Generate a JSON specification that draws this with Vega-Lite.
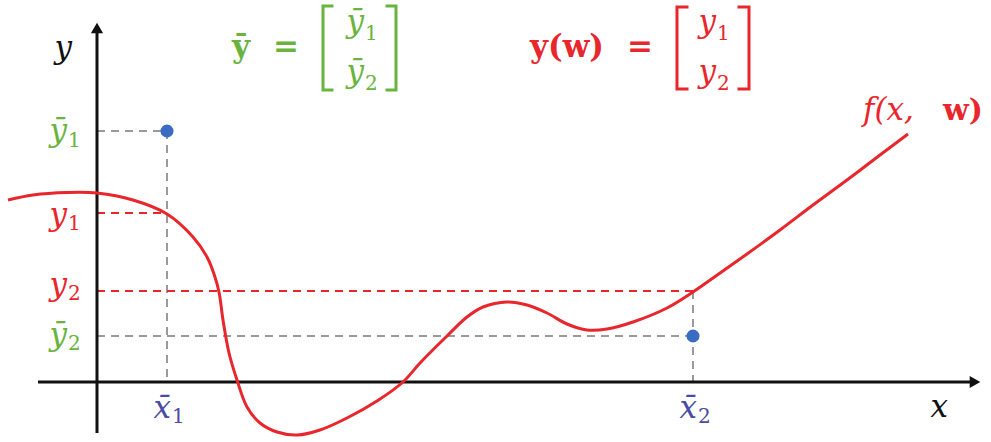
{
  "$schema": "https://vega.github.io/schema/vega-lite/v6.json",
  "width": 991,
  "height": 442,
  "padding": 0,
  "autosize": {"type": "fit", "contains": "padding"},
  "config": {"view": {"stroke": null}},
  "data": {
    "values": [
      {"kind": "curve", "o": 1, "x": -8.9, "y": 18.2, "g": "model"},
      {"kind": "curve", "o": 2, "x": -6.4, "y": 18.7, "g": "model"},
      {"kind": "curve", "o": 3, "x": -3.0, "y": 18.95, "g": "model"},
      {"kind": "curve", "o": 4, "x": 0.0, "y": 18.9, "g": "model"},
      {"kind": "curve", "o": 5, "x": 3.6, "y": 18.2, "g": "model"},
      {"kind": "curve", "o": 6, "x": 7.0, "y": 16.8, "g": "model"},
      {"kind": "curve", "o": 7, "x": 9.6, "y": 14.5, "g": "model"},
      {"kind": "curve", "o": 8, "x": 11.0, "y": 12.5, "g": "model"},
      {"kind": "curve", "o": 9, "x": 11.7, "y": 10.8, "g": "model"},
      {"kind": "curve", "o": 10, "x": 12.2, "y": 9.0, "g": "model"},
      {"kind": "curve", "o": 11, "x": 12.6, "y": 6.2, "g": "model"},
      {"kind": "curve", "o": 12, "x": 13.2, "y": 2.9, "g": "model"},
      {"kind": "curve", "o": 13, "x": 14.0, "y": 0.2, "g": "model"},
      {"kind": "curve", "o": 14, "x": 15.0, "y": -2.5, "g": "model"},
      {"kind": "curve", "o": 15, "x": 16.3, "y": -4.1, "g": "model"},
      {"kind": "curve", "o": 16, "x": 18.0, "y": -5.0, "g": "model"},
      {"kind": "curve", "o": 17, "x": 20.0, "y": -5.3, "g": "model"},
      {"kind": "curve", "o": 18, "x": 22.3, "y": -4.8, "g": "model"},
      {"kind": "curve", "o": 19, "x": 25.0, "y": -3.6, "g": "model"},
      {"kind": "curve", "o": 20, "x": 28.0, "y": -1.9, "g": "model"},
      {"kind": "curve", "o": 21, "x": 30.6, "y": 0.0, "g": "model"},
      {"kind": "curve", "o": 22, "x": 32.3, "y": 1.9, "g": "model"},
      {"kind": "curve", "o": 23, "x": 35.0, "y": 4.6, "g": "model"},
      {"kind": "curve", "o": 24, "x": 37.0, "y": 6.5, "g": "model"},
      {"kind": "curve", "o": 25, "x": 38.6, "y": 7.5, "g": "model"},
      {"kind": "curve", "o": 26, "x": 41.0, "y": 8.0, "g": "model"},
      {"kind": "curve", "o": 27, "x": 43.0, "y": 7.7, "g": "model"},
      {"kind": "curve", "o": 28, "x": 45.0, "y": 6.9, "g": "model"},
      {"kind": "curve", "o": 29, "x": 47.0, "y": 5.8, "g": "model"},
      {"kind": "curve", "o": 30, "x": 49.0, "y": 5.2, "g": "model"},
      {"kind": "curve", "o": 31, "x": 51.0, "y": 5.3, "g": "model"},
      {"kind": "curve", "o": 32, "x": 53.6, "y": 6.0, "g": "model"},
      {"kind": "curve", "o": 33, "x": 57.0, "y": 7.4, "g": "model"},
      {"kind": "curve", "o": 34, "x": 59.6, "y": 9.0, "g": "model"},
      {"kind": "curve", "o": 35, "x": 61.6, "y": 10.4, "g": "model"},
      {"kind": "curve", "o": 36, "x": 65.0, "y": 12.8, "g": "model"},
      {"kind": "curve", "o": 37, "x": 68.3, "y": 15.2, "g": "model"},
      {"kind": "curve", "o": 38, "x": 71.6, "y": 17.7, "g": "model"},
      {"kind": "curve", "o": 39, "x": 75.0, "y": 20.2, "g": "model"},
      {"kind": "curve", "o": 40, "x": 78.3, "y": 22.7, "g": "model"},
      {"kind": "curve", "o": 41, "x": 81.1, "y": 24.8, "g": "model"},

      {"kind": "bracket", "id": "gl", "o": 1, "x": 23.5, "y": 37.6, "g": "target"},
      {"kind": "bracket", "id": "gl", "o": 2, "x": 22.6, "y": 37.6, "g": "target"},
      {"kind": "bracket", "id": "gl", "o": 3, "x": 22.6, "y": 29.2, "g": "target"},
      {"kind": "bracket", "id": "gl", "o": 4, "x": 23.5, "y": 29.2, "g": "target"},
      {"kind": "bracket", "id": "gr", "o": 1, "x": 29.0, "y": 37.6, "g": "target"},
      {"kind": "bracket", "id": "gr", "o": 2, "x": 29.9, "y": 37.6, "g": "target"},
      {"kind": "bracket", "id": "gr", "o": 3, "x": 29.9, "y": 29.2, "g": "target"},
      {"kind": "bracket", "id": "gr", "o": 4, "x": 29.0, "y": 29.2, "g": "target"},
      {"kind": "bracket", "id": "rl", "o": 1, "x": 59.0, "y": 37.5, "g": "model"},
      {"kind": "bracket", "id": "rl", "o": 2, "x": 58.0, "y": 37.5, "g": "model"},
      {"kind": "bracket", "id": "rl", "o": 3, "x": 58.0, "y": 29.3, "g": "model"},
      {"kind": "bracket", "id": "rl", "o": 4, "x": 59.0, "y": 29.3, "g": "model"},
      {"kind": "bracket", "id": "rr", "o": 1, "x": 64.2, "y": 37.5, "g": "model"},
      {"kind": "bracket", "id": "rr", "o": 2, "x": 65.2, "y": 37.5, "g": "model"},
      {"kind": "bracket", "id": "rr", "o": 3, "x": 65.2, "y": 29.3, "g": "model"},
      {"kind": "bracket", "id": "rr", "o": 4, "x": 64.2, "y": 29.3, "g": "model"},

      {"kind": "axis", "x": -5.9, "y": 0, "x2": 87.6, "y2": 0, "g": "axis"},
      {"kind": "axis", "x": 0, "y": -5.1, "x2": 0, "y2": 35.2, "g": "axis"},
      {"kind": "arrow", "x": 87.8, "y": 0, "dir": "right", "g": "axis"},
      {"kind": "arrow", "x": 0, "y": 35.4, "dir": "up", "g": "axis"},

      {"kind": "dash", "x": 0, "y": 25.1, "x2": 7.0, "y2": 25.1, "g": "guide"},
      {"kind": "dash", "x": 7.0, "y": 25.1, "x2": 7.0, "y2": 0, "g": "guide"},
      {"kind": "dash", "x": 0, "y": 4.6, "x2": 59.6, "y2": 4.6, "g": "guide"},
      {"kind": "dash", "x": 59.6, "y": 9.1, "x2": 59.6, "y2": 0, "g": "guide"},
      {"kind": "dash", "x": 0, "y": 16.9, "x2": 7.0, "y2": 16.9, "g": "model"},
      {"kind": "dash", "x": 0, "y": 9.1, "x2": 59.6, "y2": 9.1, "g": "model"},

      {"kind": "dot", "x": 7.0, "y": 25.1, "g": "dot"},
      {"kind": "dot", "x": 59.6, "y": 4.6, "g": "dot"},

      {"kind": "it", "x": -3.0, "y": 24.1, "t": "ȳ", "g": "target"},
      {"kind": "it", "x": -3.0, "y": 15.7, "t": "y", "g": "model"},
      {"kind": "it", "x": -3.0, "y": 8.7, "t": "y", "g": "model"},
      {"kind": "it", "x": -3.0, "y": 3.7, "t": "ȳ", "g": "target"},
      {"kind": "it", "x": 7.4, "y": -3.6, "t": "x̄", "g": "input"},
      {"kind": "it", "x": 60.0, "y": -3.6, "t": "x̄", "g": "input"},
      {"kind": "it", "x": 26.7, "y": 35.0, "t": "ȳ", "g": "target"},
      {"kind": "it", "x": 26.7, "y": 30.0, "t": "ȳ", "g": "target"},
      {"kind": "it", "x": 61.9, "y": 35.0, "t": "y", "g": "model"},
      {"kind": "it", "x": 61.9, "y": 30.0, "t": "y", "g": "model"},
      {"kind": "it", "x": -2.5, "y": 32.4, "t": "y", "g": "axis"},
      {"kind": "it", "x": 85.1, "y": -3.5, "t": "x", "g": "axis"},

      {"kind": "sub", "x": -2.9, "y": 23.5, "t": "1", "g": "target"},
      {"kind": "sub", "x": -2.9, "y": 15.2, "t": "1", "g": "model"},
      {"kind": "sub", "x": -2.9, "y": 8.2, "t": "2", "g": "model"},
      {"kind": "sub", "x": -2.9, "y": 3.2, "t": "2", "g": "target"},
      {"kind": "sub", "x": 7.5, "y": -4.1, "t": "1", "g": "input"},
      {"kind": "sub", "x": 60.1, "y": -4.1, "t": "2", "g": "input"},
      {"kind": "sub", "x": 26.8, "y": 34.2, "t": "1", "g": "target"},
      {"kind": "sub", "x": 26.8, "y": 29.2, "t": "2", "g": "target"},
      {"kind": "sub", "x": 62.0, "y": 34.2, "t": "1", "g": "model"},
      {"kind": "sub", "x": 62.0, "y": 29.2, "t": "2", "g": "model"},

      {"kind": "bold", "x": 14.4, "y": 32.5, "t": "ȳ", "g": "target"},
      {"kind": "bold", "x": 18.9, "y": 32.5, "t": "=", "g": "target"},
      {"kind": "bold", "x": 47.0, "y": 32.5, "t": "y(w)", "g": "model"},
      {"kind": "bold", "x": 54.3, "y": 32.5, "t": "=", "g": "model"},

      {"kind": "fl", "x": 76.6, "y": 26.2, "t": "f(x,", "g": "model"},
      {"kind": "fr", "x": 84.6, "y": 26.2, "t": "w)", "g": "model"}
    ]
  },
  "encoding": {
    "x": {"field": "x", "type": "quantitative", "axis": null, "scale": {"domain": [-9.7, 89.4], "nice": false, "zero": false}},
    "y": {"field": "y", "type": "quantitative", "axis": null, "scale": {"domain": [-6.0, 38.2], "nice": false, "zero": false}},
    "color": {"field": "g", "type": "nominal", "legend": null, "scale": {"domain": ["target", "model", "input", "axis", "guide", "dot"], "range": ["#6ab43e", "#e8262c", "#4b4ba3", "#111111", "#9a9a9a", "#3b6cc4"]}}
  },
  "layer": [
    {
      "transform": [{"filter": "datum.kind === 'dash'"}],
      "mark": {"type": "rule", "strokeWidth": 2, "strokeDash": [8, 6]},
      "encoding": {"x2": {"field": "x2"}, "y2": {"field": "y2"}}
    },
    {
      "transform": [{"filter": "datum.kind === 'axis'"}],
      "mark": {"type": "rule", "strokeWidth": 3},
      "encoding": {"x2": {"field": "x2"}, "y2": {"field": "y2"}}
    },
    {
      "transform": [{"filter": "datum.kind === 'arrow'"}],
      "mark": {"type": "point", "filled": true, "size": 150, "opacity": 1},
      "encoding": {"shape": {"field": "dir", "type": "nominal", "legend": null, "scale": {"domain": ["up", "right"], "range": ["triangle-up", "triangle-right"]}}}
    },
    {
      "transform": [{"filter": "datum.kind === 'curve'"}],
      "mark": {"type": "line", "strokeWidth": 3, "interpolate": "catmull-rom"},
      "encoding": {"order": {"field": "o", "type": "quantitative"}}
    },
    {
      "transform": [{"filter": "datum.kind === 'bracket'"}],
      "mark": {"type": "line", "strokeWidth": 3, "strokeCap": "square"},
      "encoding": {"order": {"field": "o", "type": "quantitative"}, "detail": {"field": "id", "type": "nominal"}}
    },
    {
      "transform": [{"filter": "datum.kind === 'dot'"}],
      "mark": {"type": "point", "filled": true, "size": 170, "opacity": 1, "shape": "circle"}
    },
    {
      "transform": [{"filter": "datum.kind === 'it'"}],
      "mark": {"type": "text", "font": "DejaVu Serif", "fontStyle": "italic", "fontSize": 31, "align": "right", "baseline": "alphabetic"},
      "encoding": {"text": {"field": "t"}}
    },
    {
      "transform": [{"filter": "datum.kind === 'sub'"}],
      "mark": {"type": "text", "font": "DejaVu Serif", "fontSize": 20, "align": "left", "baseline": "alphabetic"},
      "encoding": {"text": {"field": "t"}}
    },
    {
      "transform": [{"filter": "datum.kind === 'bold'"}],
      "mark": {"type": "text", "font": "DejaVu Serif", "fontWeight": "bold", "fontSize": 31, "align": "center", "baseline": "alphabetic"},
      "encoding": {"text": {"field": "t"}}
    },
    {
      "transform": [{"filter": "datum.kind === 'fl'"}],
      "mark": {"type": "text", "font": "DejaVu Serif", "fontStyle": "italic", "fontSize": 31, "align": "left", "baseline": "alphabetic"},
      "encoding": {"text": {"field": "t"}}
    },
    {
      "transform": [{"filter": "datum.kind === 'fr'"}],
      "mark": {"type": "text", "font": "DejaVu Serif", "fontWeight": "bold", "fontSize": 30, "align": "left", "baseline": "alphabetic"},
      "encoding": {"text": {"field": "t"}}
    }
  ]
}
